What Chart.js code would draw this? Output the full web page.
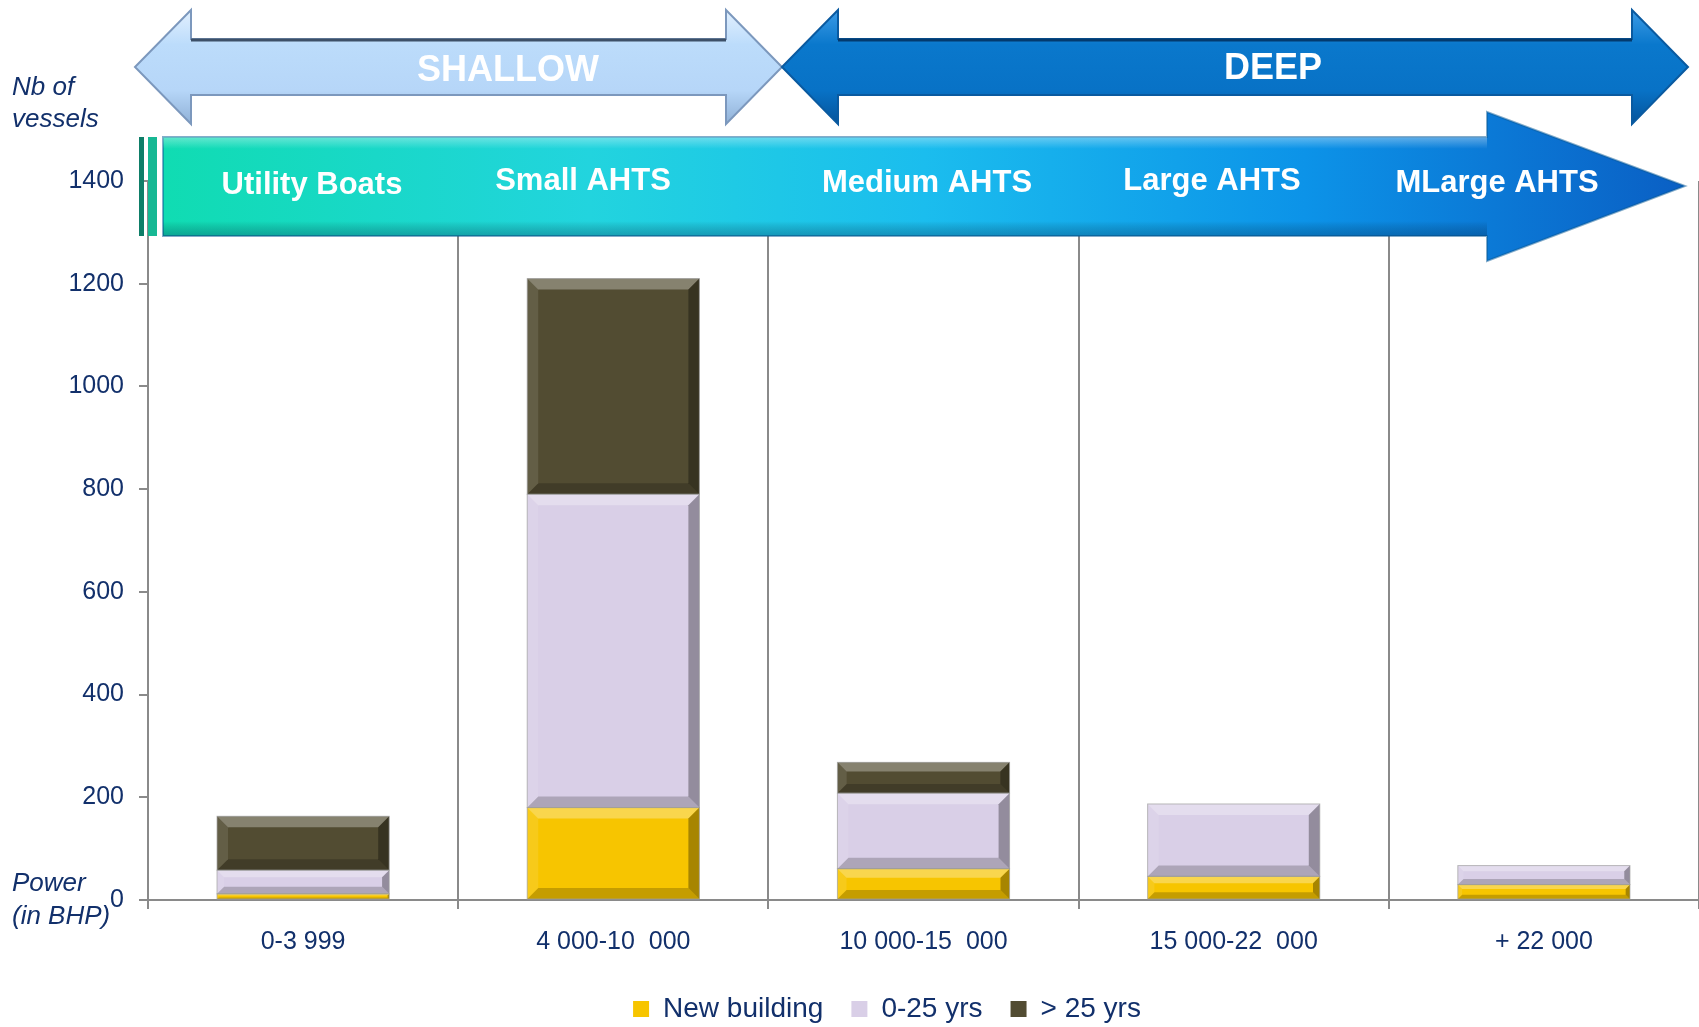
<!DOCTYPE html>
<html>
<head>
<meta charset="utf-8">
<script src="https://cdn.jsdelivr.net/npm/chart.js@4.4.0/dist/chart.umd.min.js"></script>
<style>
  html, body { margin: 0; padding: 0; background: #fff; }
  #wrap { width: 1699px; height: 1027px; }
</style>
</head>
<body>
<div id="wrap"><canvas id="chart"></canvas></div>
<script>
const categories = ["0-3 999", "4 000-10  000", "10 000-15  000", "15 000-22  000", "+ 22 000"];
const newBuilding = [12, 180, 61, 46, 30];
const young = [46, 610, 147, 141, 37];
const old = [105, 420, 60, 0, 0];
const seriesNames = ["New building", "0-25 yrs", "> 25 yrs"];
const segmentLabels = ["Utility Boats", "Small AHTS", "Medium AHTS", "Large AHTS", "MLarge AHTS"];
const depthLabels = ["SHALLOW", "DEEP"];

const navy = "#12306b";
const font = "'Liberation Sans', Arial, sans-serif";

function poly(ctx, pts, fill) {
  ctx.beginPath();
  ctx.moveTo(pts[0][0], pts[0][1]);
  for (let i = 1; i < pts.length; i++) ctx.lineTo(pts[i][0], pts[i][1]);
  ctx.closePath();
  ctx.fillStyle = fill;
  ctx.fill();
}

// bevel look on each bar, taken from the bar elements themselves
const bevelPlugin = {
  id: "bevel",
  afterDatasetsDraw(chart) {
    const ctx = chart.ctx;
    chart.data.datasets.forEach((ds, i) => {
      chart.getDatasetMeta(i).data.forEach((bar) => {
        const { x, y, base, width } = bar.getProps(["x", "y", "base", "width"], true);
        const h = base - y;
        if (h < 1) return;
        const l = x - width / 2, r = x + width / 2, t = y, b = base;
        const d = Math.min(11, h * 0.3);
        ctx.save();
        poly(ctx, [[l, t], [r, t], [r - d, t + d], [l + d, t + d]], "rgba(255,255,255,0.3)");
        poly(ctx, [[l, b], [r, b], [r - d, b - d], [l + d, b - d]], "rgba(0,0,0,0.2)");
        poly(ctx, [[l, t], [l + d, t + d], [l + d, b - d], [l, b]], "rgba(255,255,255,0.1)");
        poly(ctx, [[r, t], [r - d, t + d], [r - d, b - d], [r, b]], "rgba(0,0,0,0.32)");
        ctx.strokeStyle = "rgba(160,160,160,0.7)";
        ctx.lineWidth = 1;
        ctx.strokeRect(l, t, width, h);
        ctx.restore();
      });
    });
  },
};

function dblArrow(x0, x1, cy, sh, hh, hl) {
  return [
    [x0, cy], [x0 + hl, cy - hh], [x0 + hl, cy - sh], [x1 - hl, cy - sh],
    [x1 - hl, cy - hh], [x1, cy], [x1 - hl, cy + hh], [x1 - hl, cy + sh],
    [x0 + hl, cy + sh], [x0 + hl, cy + hh],
  ];
}

function drawShape(ctx, pts, fill, stroke) {
  ctx.beginPath();
  ctx.moveTo(pts[0][0], pts[0][1]);
  for (let i = 1; i < pts.length; i++) ctx.lineTo(pts[i][0], pts[i][1]);
  ctx.closePath();
  ctx.fillStyle = fill;
  ctx.fill();
  ctx.strokeStyle = stroke;
  ctx.lineWidth = 2;
  ctx.stroke();
}

// the legend in the original sits a little right of centre
const legendShift = {
  id: "legendShift",
  afterLayout(chart) {
    chart.legend.left += 36;
    chart.legend.right += 36;
  },
};

const bannerPlugin = {
  id: "banner",
  afterDraw(chart) {
    const ctx = chart.ctx;
    ctx.save();

    // depth arrows
    let g = ctx.createLinearGradient(0, 10, 0, 125);
    g.addColorStop(0, "#e2f0fe");
    g.addColorStop(0.3, "#bcdcfb");
    g.addColorStop(0.7, "#b6d6f8");
    g.addColorStop(1, "#8fb0d6");
    drawShape(ctx, dblArrow(135, 782, 67, 28, 57, 56), g, "#7c98bd");
    ctx.beginPath();
    ctx.moveTo(191, 40); ctx.lineTo(726, 40);
    ctx.strokeStyle = "#3d5068"; ctx.lineWidth = 3; ctx.stroke();

    g = ctx.createLinearGradient(0, 10, 0, 125);
    g.addColorStop(0, "#3c9be6");
    g.addColorStop(0.3, "#0a78cc");
    g.addColorStop(0.7, "#0872c6");
    g.addColorStop(1, "#05539a");
    drawShape(ctx, dblArrow(782, 1688, 67, 28, 57, 56), g, "#0a5aa0");
    ctx.beginPath();
    ctx.moveTo(838, 40); ctx.lineTo(1632, 40);
    ctx.strokeStyle = "#033a6e"; ctx.lineWidth = 3; ctx.stroke();

    ctx.fillStyle = "#ffffff";
    ctx.textAlign = "center";
    ctx.textBaseline = "middle";
    ctx.font = "bold 36px " + font;
    ctx.fillText(depthLabels[0], 508, 71);
    ctx.fillText(depthLabels[1], 1273, 69);

    // segment arrow
    const arrow = [[163, 137], [1487, 137], [1487, 112], [1685, 186], [1487, 261], [1487, 236], [163, 236]];
    g = ctx.createLinearGradient(163, 0, 1685, 0);
    g.addColorStop(0, "#10dcb2");
    g.addColorStop(0.28, "#22d4de");
    g.addColorStop(0.5, "#1bbdee");
    g.addColorStop(0.75, "#0c93e8");
    g.addColorStop(1, "#0a5fc4");
    drawShape(ctx, arrow, g, "rgba(10,90,150,0.5)");
    g = ctx.createLinearGradient(0, 137, 0, 236);
    g.addColorStop(0, "rgba(255,255,255,0.35)");
    g.addColorStop(0.12, "rgba(255,255,255,0)");
    g.addColorStop(0.85, "rgba(0,0,0,0)");
    g.addColorStop(1, "rgba(0,40,80,0.3)");
    poly(ctx, [[163, 137], [1487, 137], [1487, 236], [163, 236]], g);

    ctx.fillStyle = "#0e7e68";
    ctx.fillRect(139, 137, 5, 99);
    ctx.fillStyle = "#17b894";
    ctx.fillRect(148, 137, 9, 99);

    ctx.fillStyle = "#ffffff";
    ctx.font = "bold 31px " + font;
    const segX = [312, 583, 927, 1212, 1497];
    const segY = [185, 181, 183, 181, 183];
    segmentLabels.forEach((s, i) => ctx.fillText(s, segX[i], segY[i]));

    // axis captions
    ctx.fillStyle = navy;
    ctx.textAlign = "left";
    ctx.font = "italic 26px " + font;
    ctx.fillText("Nb of", 12, 88);
    ctx.fillText("vessels", 12, 120);
    ctx.fillText("Power", 12, 884);
    ctx.fillText("(in BHP)", 12, 917);
    ctx.restore();
  },
};

const ctx = document.getElementById("chart").getContext("2d");
const colors = ["#f7c500", "#d9cfe7", "#524c32"];

new Chart(ctx, {
  type: "bar",
  data: {
    labels: categories,
    datasets: [newBuilding, young, old].map((d, i) => ({
      label: seriesNames[i],
      data: d,
      backgroundColor: colors[i],
      borderWidth: 0,
      categoryPercentage: 1,
      barPercentage: 0.555,
    })),
  },
  options: {
    responsive: true,
    maintainAspectRatio: false,
    animation: false,
    layout: { padding: { top: 181, left: 0, right: -3, bottom: -6 } },
    plugins: {
      tooltip: { enabled: false },
      legend: {
        position: "bottom",
        labels: {
          color: navy,
          font: { family: font, size: 28 },
          boxWidth: 16,
          boxHeight: 16,
          padding: 28,
        },
      },
    },
    scales: {
      x: {
        stacked: true,
        grid: {
          offset: true,
          drawOnChartArea: true,
          color: "#8a8a8a",
          lineWidth: 2,
          tickLength: 9,
        },
        border: { display: true, color: "#8a8a8a", width: 2 },
        ticks: { color: navy, font: { family: font, size: 25 }, padding: 18, maxRotation: 0 },
        afterFit(scale) { scale.height = 67; },
      },
      y: {
        stacked: true,
        min: 0,
        max: 1400,
        grid: { drawOnChartArea: false, color: "#8a8a8a", lineWidth: 2, tickLength: 9 },
        border: { display: true, color: "#8a8a8a", width: 2 },
        ticks: {
          stepSize: 200,
          color: navy,
          font: { family: font, size: 25 },
          padding: 15,
          callback: (v) => String(v),
        },
        afterFit(scale) { scale.width = 148; },
      },
    },
  },
  plugins: [bevelPlugin, bannerPlugin, legendShift],
});
</script>
</body>
</html>
